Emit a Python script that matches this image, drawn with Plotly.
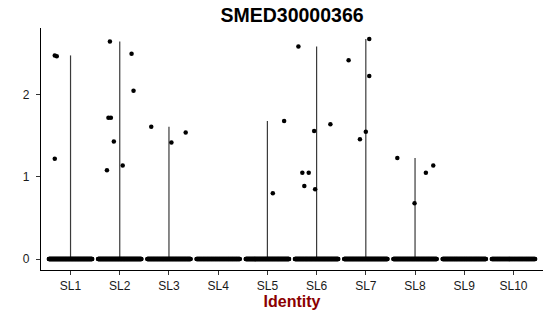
import numpy as np
import plotly.graph_objects as go

# ---- data ----
categories = ["SL1", "SL2", "SL3", "SL4", "SL5", "SL6", "SL7", "SL8", "SL9", "SL10"]

# non-zero expression values per identity
nonzero_values = {
    "SL1": [2.47, 2.48, 1.22],
    "SL2": [2.65, 2.50, 2.05, 1.72, 1.72, 1.43, 1.08, 1.14],
    "SL3": [1.61, 1.42, 1.54],
    "SL4": [],
    "SL5": [0.80, 1.68],
    "SL6": [2.59, 1.64, 1.56, 1.05, 1.05, 0.89, 0.85],
    "SL7": [2.68, 2.42, 2.23, 1.55, 1.46],
    "SL8": [1.23, 1.05, 1.14, 0.68],
    "SL9": [],
    "SL10": [],
}
# horizontal jitter of those points (fraction of category spacing)
nonzero_jitter = {
    "SL1": [-0.28, -0.32, -0.32],
    "SL2": [-0.20, 0.24, 0.28, -0.23, -0.18, -0.12, -0.26, 0.06],
    "SL3": [-0.36, 0.05, 0.34],
    "SL4": [],
    "SL5": [0.11, 0.34],
    "SL6": [-0.37, 0.28, -0.05, -0.29, -0.16, -0.25, -0.03],
    "SL7": [0.07, -0.35, 0.07, 0.00, -0.12],
    "SL8": [-0.36, 0.22, 0.37, -0.01],
    "SL9": [],
    "SL10": [],
}
# number of cells with zero expression per identity (estimated)
zero_counts = [160, 160, 150, 120, 150, 150, 150, 140, 140, 110]

JITTER_WIDTH = 0.44

fig = go.Figure()

# violin outlines (trimmed: from min to max of each group's data)
for i, cat in enumerate(categories):
    vals = [0.0] + nonzero_values[cat]
    lo, hi = min(vals), max(vals)
    if hi > lo:
        fig.add_trace(go.Scatter(
            x=[i, i], y=[lo, hi], mode="lines",
            line=dict(color="#3a3a3a", width=1.2),
            hoverinfo="skip", showlegend=False))

# jittered points
xs, ys = [], []
for i, cat in enumerate(categories):
    n0 = zero_counts[i]
    offs = np.linspace(-JITTER_WIDTH, JITTER_WIDTH, n0)
    xs.extend((i + offs).tolist())
    ys.extend([0.0] * n0)
    for v, j in zip(nonzero_values[cat], nonzero_jitter[cat]):
        xs.append(i + j)
        ys.append(v)

fig.add_trace(go.Scatter(
    x=xs, y=ys, mode="markers",
    marker=dict(color="black", size=4.5, line=dict(width=0)),
    showlegend=False))

all_vals = [v for c in categories for v in nonzero_values[c]] + [0.0]
ymax = max(all_vals)
pad = 0.05 * (ymax - 0)

fig.update_layout(
    width=550, height=316,
    margin=dict(l=41, r=7, t=28, b=46),
    plot_bgcolor="white", paper_bgcolor="white",
    font=dict(family="Liberation Sans, Arial, sans-serif", color="black"),
    title=dict(text="<b>SMED30000366</b>", x=0.531, xanchor="center",
               y=1 - 15 / 316, yanchor="middle",
               font=dict(size=19.5, color="black")),
    xaxis=dict(
        range=[-0.6, len(categories) - 0.4],
        tickmode="array", tickvals=list(range(len(categories))), ticktext=categories,
        showline=True, linecolor="black", linewidth=1.2,
        ticks="outside", ticklen=4, tickcolor="#333333", tickwidth=1,
        showgrid=False, zeroline=False,
        tickfont=dict(size=12, color="#1a1a1a"),
        title=dict(text="<b>Identity</b>", font=dict(size=16, color="#8B0000"), standoff=4),
    ),
    yaxis=dict(
        range=[-pad, ymax + pad],
        tickvals=[0, 1, 2],
        showline=True, linecolor="black", linewidth=1.2,
        ticks="outside", ticklen=4, tickcolor="#333333", tickwidth=1,
        ticklabelstandoff=4,
        showgrid=False, zeroline=False,
        tickfont=dict(size=12, color="#1a1a1a"),
    ),
)

fig.write_html("out.html")
